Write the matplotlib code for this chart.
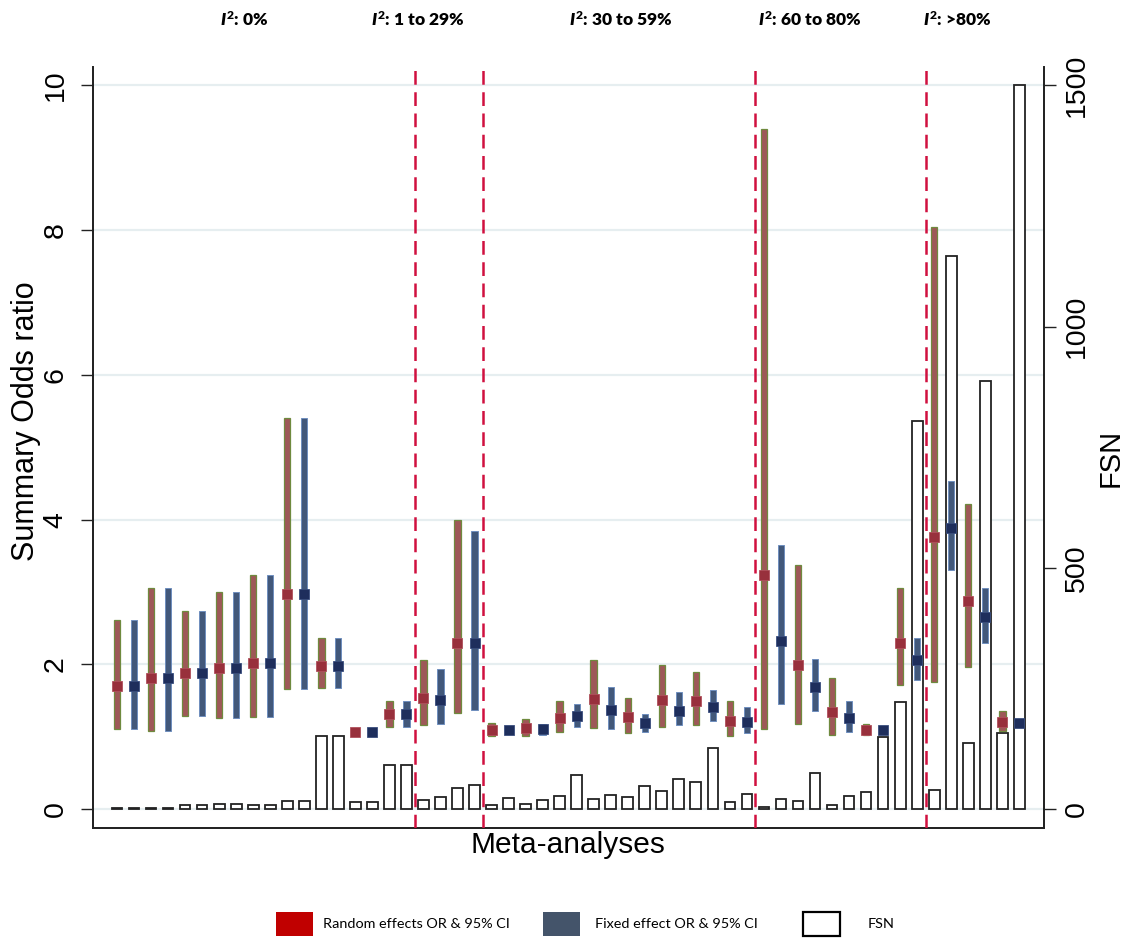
import matplotlib
matplotlib.use("Agg")
import matplotlib.pyplot as plt
from matplotlib.patches import Rectangle
import numpy as np

plt.rcParams['font.family'] = ['Liberation Sans', 'DejaVu Sans']
plt.rcParams['mathtext.fontset'] = 'custom'
plt.rcParams['mathtext.it'] = 'Lato:italic:heavy'
plt.rcParams['mathtext.rm'] = 'Lato:heavy'
plt.rcParams['mathtext.bf'] = 'Lato:heavy'

# ---------------- data ----------------
group_labels = [r"$I^{2}$: 0%", r"$I^{2}$: 1 to 29%", r"$I^{2}$: 30 to 59%",
                r"$I^{2}$: 60 to 80%", r"$I^{2}$: >80%"]
group_sizes = [18, 4, 16, 10, 6]   # positions per heterogeneity group

# Random effects (slots 0,2,4,...)
random_or = [1.70, 1.82, 1.88, 1.95, 2.02, 2.98, 1.98, 1.07, 1.31,
             1.54, 2.30,
             1.10, 1.12, 1.26, 1.52, 1.28, 1.51, 1.50, 1.22,
             3.24, 1.99, 1.35, 1.10, 2.29,
             3.76, 2.88, 1.21]
random_lo = [1.11, 1.08, 1.29, 1.26, 1.27, 1.66, 1.68, 1.05, 1.13,
             1.16, 1.33,
             1.01, 1.01, 1.07, 1.12, 1.06, 1.14, 1.16, 1.01,
             1.11, 1.18, 1.02, 1.03, 1.71,
             1.76, 1.96, 1.08]
random_hi = [2.61, 3.05, 2.74, 3.00, 3.24, 5.40, 2.36, 1.10, 1.50,
             2.06, 3.99,
             1.19, 1.25, 1.50, 2.06, 1.54, 1.99, 1.90, 1.49,
             9.40, 3.37, 1.81, 1.18, 3.05,
             8.04, 4.22, 1.36]

# Fixed effect (slots 1,3,5,...)
fixed_or = [1.70, 1.82, 1.88, 1.95, 2.02, 2.98, 1.98, 1.07, 1.31,
            1.51, 2.29,
            1.10, 1.11, 1.29, 1.37, 1.19, 1.36, 1.41, 1.21,
            2.32, 1.69, 1.26, 1.09, 2.06,
            3.88, 2.66, 1.19]
fixed_lo = [1.11, 1.08, 1.29, 1.26, 1.27, 1.66, 1.68, 1.05, 1.13,
            1.18, 1.37,
            1.07, 1.02, 1.14, 1.11, 1.07, 1.16, 1.22, 1.05,
            1.46, 1.36, 1.07, 1.07, 1.79,
            3.31, 2.29, 1.17]
fixed_hi = [2.61, 3.05, 2.74, 3.00, 3.24, 5.40, 2.36, 1.09, 1.50,
            1.94, 3.84,
            1.13, 1.18, 1.45, 1.69, 1.32, 1.62, 1.65, 1.41,
            3.65, 2.08, 1.49, 1.12, 2.36,
            4.54, 3.05, 1.21]

# Fail-safe N for every slot
fsn = [3, 3, 3, 3, 8, 8, 10, 10, 9, 9, 17, 17, 151, 151, 16, 16, 91, 91,
       20, 25, 45, 51,
       9, 24, 11, 19, 27, 71, 22, 30, 25, 49, 38, 63, 57, 127, 16, 31,
       5, 22, 17, 76, 9, 27, 35, 149, 223, 805,
       39, 1147, 137, 888, 159, 1500]

# ---------------- figure ----------------
fig = plt.figure(figsize=(11.29, 9.38), dpi=100)
ax = fig.add_axes([93 / 1129, (938 - 828.3) / 938, (1044 - 93) / 1129, (828.3 - 67) / 938])
ax2 = ax.twinx()
ax.set_zorder(ax2.get_zorder() + 1)
ax.patch.set_visible(False)

n = len(fsn)
x = np.arange(n)
xr = x[0::2]
xf = x[1::2]

ylo, yhi = -0.262, 10.25
ax.set_xlim(-1.41, 54.45)
ax.set_ylim(ylo, yhi)
ax2.set_ylim(ylo * 150, yhi * 150)

# grid (light)
for g in [0, 2, 4, 6, 8, 10]:
    ax2.axhline(g * 150, color='#e6eef0', lw=1.6, zorder=0)

# FSN bars
ax2.bar(x, fsn, width=0.63, facecolor='white', edgecolor='#222222', lw=1.3, zorder=2)

# CI bars
rlo = np.array(random_lo); rhi = np.array(random_hi)
flo = np.array(fixed_lo); fhi = np.array(fixed_hi)
ax.bar(xr, rhi - rlo, bottom=rlo, width=0.38, facecolor='#9e5858',
       edgecolor='#6f8a3e', lw=0.9, zorder=3)
ax.bar(xf, fhi - flo, bottom=flo, width=0.37, facecolor='#42587a',
       edgecolor='#6f8fbf', lw=0.7, zorder=3)
ax.plot(xr, random_or, ls='none', marker='s', ms=7.4, mfc='#98303c', mec='#b0505c',
        mew=0.6, zorder=4)
ax.plot(xf, fixed_or, ls='none', marker='s', ms=7.4, mfc='#1e2e5c', mec='#3a4e7e',
        mew=0.6, zorder=4)

# group separators
bounds = np.cumsum(group_sizes)[:-1] - 0.5
for b in bounds:
    ax.axvline(b, color='#d0103f', lw=1.8, ls=(0, (5.5, 3.0)), zorder=5)

# spines & ticks
for a in (ax, ax2):
    a.spines['top'].set_visible(False)
    for s in ('left', 'right', 'bottom'):
        a.spines[s].set_color('#222222')
        a.spines[s].set_linewidth(1.3)
ax.set_xticks([])
ax.set_yticks([0, 2, 4, 6, 8, 10])
ax.tick_params(axis='y', length=8.5, width=1.0, pad=9, labelsize=20.5, color='#222222')
for lab in ax.get_yticklabels():
    lab.set_rotation(90)
    lab.set_va('center')
ax2.set_yticks([0, 500, 1000, 1500])
ax2.tick_params(axis='y', length=8.5, width=1.0, pad=6, labelsize=20.5, color='#222222')
for lab in ax2.get_yticklabels():
    lab.set_rotation(90)
    lab.set_va('center')

# axis titles
fig.text(26 / 1129, 1 - 421 / 938, 'Summary Odds ratio', rotation=90, ha='center',
         va='center', fontsize=22)
fig.text(1111 / 1129, 1 - 458 / 938, 'FSN', rotation=90, ha='center', va='center', fontsize=21)
fig.text(568 / 1129, 1 - 845 / 938, 'Meta-analyses', ha='center', va='center', fontsize=21.5)

# group labels
label_x = [244, 418, 621, 810, 957]
for lx, lab in zip(label_x, group_labels):
    fig.text(lx / 1129, 1 - 20 / 938, lab, ha='center', va='center', fontsize=12.5,
             family='Lato', fontweight='heavy')

# legend
leg_items = [(276, '#c00000', 'none', 'Random effects OR & 95% CI', 323),
             (543, '#44546a', 'none', 'Fixed effect OR & 95% CI', 595),
             (803, 'white', '#000000', 'FSN', 868)]
for rx, fc, ec, txt, tx in leg_items:
    fig.add_artist(Rectangle((rx / 1129, (938 - 936) / 938), 37 / 1129, 24 / 938,
                             transform=fig.transFigure, facecolor=fc,
                             edgecolor=ec, lw=1.6 if ec != 'none' else 0))
    fig.text(tx / 1129, (938 - 924) / 938, txt, ha='left', va='center', fontsize=10.4,
             family='Lato')

fig.savefig('out.png', dpi=100)
